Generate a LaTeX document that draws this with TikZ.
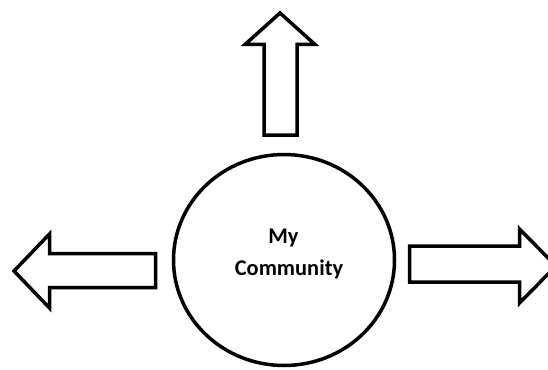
\documentclass[tikz,border=0pt]{standalone}
\usepackage{fontspec}
\setmainfont{Carlito}
\usetikzlibrary{shapes.geometric,positioning}
\tikzset{
	community/.style = {draw, ellipse, line width=3.5pt, minimum width=221pt, minimum height=211pt, inner sep=0pt},
	blockarrow/.style = {draw, line width=3.5pt, miter limit=10, fill=white},
	caption/.style = {anchor=base, inner sep=0pt, font=\bfseries\fontsize{22.4}{32}\selectfont}
}
\begin{document}
\begin{tikzpicture}[x=1pt,y=-1pt]
	\useasboundingbox (0,0) rectangle (548,369);
	\node[community] (comm) at (284,260) {};
	\node[caption] (my) at (283.5,243) {My};
	\node[caption] (name) at (289,275) {Community};
	% up
	\draw[blockarrow] (264,135) -- (264,44.5) -- (245,44.5) -- (280,13) -- (315,44.5) -- (297,44.5) -- (297,135) -- cycle;
	% left
	\draw[blockarrow] (155.5,253.5) -- (49.5,253.5) -- (49.5,234) -- (14,271) -- (49.5,308) -- (49.5,287.5) -- (155.5,287.5) -- cycle;
	% right
	\draw[blockarrow] (409.5,246) -- (519.5,246) -- (519.5,229) -- (556,266) -- (519.5,303) -- (519.5,282) -- (409.5,282) -- cycle;
\end{tikzpicture}
\end{document}
